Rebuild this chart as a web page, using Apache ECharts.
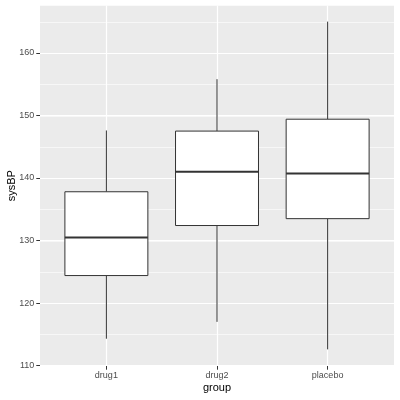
<!DOCTYPE html>
<html>
<head>
<meta charset="utf-8">
<script src="https://cdn.jsdelivr.net/npm/echarts@6/dist/echarts.min.js"></script>
<style>
  html, body { margin: 0; padding: 0; background: #fff; }
  #main { width: 400px; height: 400px; }
</style>
</head>
<body>
<div id="main"></div>
<script>
// values
const groups = ['drug1', 'drug2', 'placebo'];
const lowerWhisker = [114.3, 117.0, 112.6];
const q1 = [124.4, 132.4, 133.5];
const median = [130.5, 141.0, 140.7];
const q3 = [137.8, 147.5, 149.4];
const upperWhisker = [147.6, 155.8, 165.0];
const yTicks = [110, 120, 130, 140, 150, 160];
const xTicks = [1, 2, 3];

const boxData = groups.map((g, i) =>
  [i + 1, lowerWhisker[i], q1[i], median[i], q3[i], upperWhisker[i]]);

const chart = echarts.init(document.getElementById('main'));

const labelFont = { color: '#4D4D4D', fontSize: 9, fontFamily: 'Liberation Sans' };
const nameFont = { color: '#000', fontSize: 11, fontFamily: 'Liberation Sans' };

const option = {
  animation: false,
  grid: {
    left: 40, right: 6, top: 5.5, bottom: 34,
    outerBoundsMode: 'none',
    containLabel: false,
    show: true, backgroundColor: '#EBEBEB', borderWidth: 0
  },
  xAxis: {
    type: 'value',
    min: 0.4, max: 3.6,
    name: 'group', nameLocation: 'middle', nameGap: 16.5, nameMoveOverlap: false,
    nameTextStyle: nameFont,
    axisLine: { show: false },
    axisTick: { show: true, length: 3.7, customValues: xTicks, lineStyle: { color: '#333' } },
    axisLabel: Object.assign({ margin: 5.5, customValues: xTicks,
      formatter: v => groups[Math.round(v) - 1] }, labelFont),
    splitLine: { show: true, lineStyle: { color: '#fff', width: 1.2 } }
  },
  yAxis: [{
    type: 'value',
    min: 109.94, max: 167.58,
    name: 'sysBP', nameLocation: 'middle', nameGap: 22.5, nameMoveOverlap: false,
    nameTextStyle: nameFont,
    axisLine: { show: false },
    axisTick: { show: true, length: 3.7, customValues: yTicks, lineStyle: { color: '#333' } },
    axisLabel: Object.assign({ margin: 5.7, customValues: yTicks }, labelFont),
    splitLine: { show: true, lineStyle: { color: '#fff', width: 1.2 } }
  }, {
    // minor grid lines
    type: 'value',
    position: 'left',
    min: 109.94, max: 167.58, interval: 5,
    axisLine: { show: false },
    axisTick: { show: false },
    axisLabel: { show: false },
    splitLine: { show: true, lineStyle: { color: '#fff', width: 0.6 } }
  }],
  series: [{
    type: 'custom',
    yAxisIndex: 0,
    data: boxData,
    encode: { x: 0, y: [1, 2, 3, 4, 5] },
    renderItem(params, api) {
      const x = api.value(0);
      const lo = api.coord([x, api.value(1)]);
      const b1 = api.coord([x, api.value(2)]);
      const md = api.coord([x, api.value(3)]);
      const b3 = api.coord([x, api.value(4)]);
      const hi = api.coord([x, api.value(5)]);
      const half = api.size([0.75, 0])[0] / 2;
      const edge = { stroke: '#333333', lineWidth: 1 };
      return {
        type: 'group',
        children: [
          { type: 'line', shape: { x1: hi[0], y1: hi[1], x2: b3[0], y2: b3[1] }, style: edge },
          { type: 'line', shape: { x1: b1[0], y1: b1[1], x2: lo[0], y2: lo[1] }, style: edge },
          { type: 'rect', shape: { x: b3[0] - half, y: b3[1], width: half * 2, height: b1[1] - b3[1] },
            style: { fill: '#fff', stroke: '#333333', lineWidth: 1 } },
          { type: 'line', shape: { x1: md[0] - half, y1: md[1], x2: md[0] + half, y2: md[1] },
            style: { stroke: '#333333', lineWidth: 2 } }
        ]
      };
    }
  }]
};

chart.setOption(option);
</script>
</body>
</html>
